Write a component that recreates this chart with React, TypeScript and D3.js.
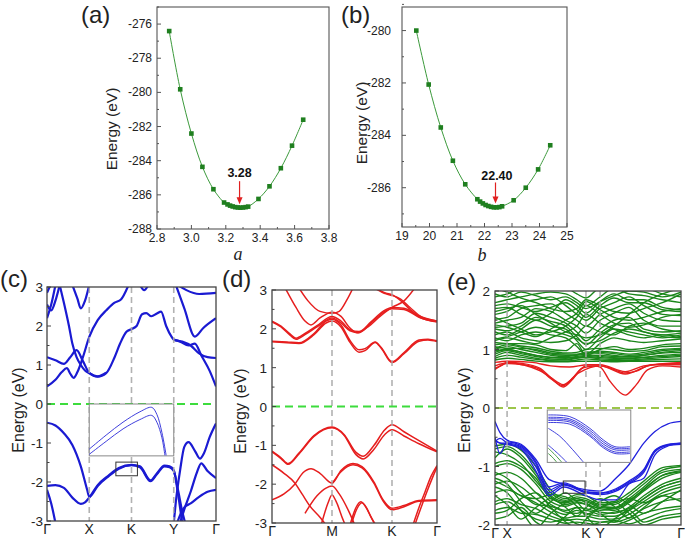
import React from 'react';
import * as d3 from 'd3';

const FONT = '"Liberation Sans", Arial, Helvetica, sans-serif';
type Pt = [number, number];

// ---------- (a) total energy vs lattice a ----------
const aLattice = [2.871, 2.935, 3.0, 3.064, 3.128, 3.19, 3.21, 3.225, 3.24, 3.255, 3.27, 3.285, 3.3, 3.315, 3.33, 3.39, 3.454, 3.52, 3.585, 3.65];
const aEnergy = [-276.41, -279.82, -282.41, -284.36, -285.67, -286.45, -286.56, -286.63, -286.68, -286.72, -286.74, -286.75, -286.74, -286.72, -286.69, -286.24, -285.5, -284.44, -283.12, -281.6];
const aXTicks = [2.8, 3.0, 3.2, 3.4, 3.6, 3.8];
const aXMinor = [2.9, 3.1, 3.3, 3.5, 3.7];
const aYTicks = [-288, -286, -284, -282, -280, -278, -276];
const aYMinor = [-287, -285, -283, -281, -279, -277, -275];

// ---------- (b) total energy vs lattice b ----------
const bLattice = [19.52, 19.97, 20.41, 20.85, 21.3, 21.74, 21.84, 21.94, 22.04, 22.14, 22.24, 22.34, 22.44, 22.54, 22.64, 23.06, 23.5, 23.95, 24.39];
const bEnergy = [-280.0, -282.06, -283.7, -284.97, -285.87, -286.44, -286.53, -286.6, -286.66, -286.7, -286.73, -286.75, -286.75, -286.74, -286.71, -286.48, -286.0, -285.3, -284.38];
const bXTicks = [19, 20, 21, 22, 23, 24, 25];
const bXMinor = [19.5, 20.5, 21.5, 22.5, 23.5, 24.5];
const bYTicks = [-286, -284, -282, -280];
const bYMinor = [-287, -285, -283, -281, -279];

// ---------- (c) band structure ----------
const cKLabels: [number, string][] = [[0, 'Γ'], [1, 'X'], [2, 'K'], [3, 'Y'], [4, 'Γ']];
const cDashed = [1, 2, 3];
const cYTicks = [-3, -2, -1, 0, 1, 2, 3];
const cConduction: Pt[][] = [
  [[0, 0.45], [0.2, 0.62], [0.35, 0.82], [0.47, 0.92], [0.55, 0.78], [0.63, 0.67], [0.72, 0.82], [0.85, 1.2], [1.0, 1.72], [1.2, 2.15], [1.41, 2.41], [1.6, 2.6], [1.75, 2.68], [1.93, 3.05]],
  [[0, 1.2], [0.2, 1.12], [0.4, 1.03], [0.55, 1.2], [0.7, 1.38], [0.85, 1.1], [1.0, 0.8], [1.2, 0.7], [1.4, 0.79], [1.6, 1.2], [1.73, 1.55], [1.88, 1.85], [2.0, 1.92], [2.12, 2.0], [2.25, 2.3], [2.35, 2.33], [2.47, 2.25], [2.6, 2.32], [2.7, 2.37], [2.82, 2.0], [2.95, 1.72], [3.0, 1.65], [3.2, 1.6], [3.4, 1.5], [3.6, 1.3], [3.8, 1.2], [4.0, 1.18]],
  [[0, 2.2], [0.1, 2.55], [0.2, 3.05]],
  [[0, 2.55], [0.1, 2.4], [0.2, 2.65], [0.3, 3.05]],
  [[0, 2.85], [0.08, 3.05]],
  [[0.6, 3.05], [0.72, 2.7], [0.8, 2.45], [0.9, 2.65], [1.0, 3.05]],
  [[0.3, 3.05], [0.42, 2.5], [0.52, 2.0], [0.6, 1.55], [0.7, 1.2], [0.8, 1.0], [0.9, 0.86], [1.0, 0.79], [1.2, 0.71], [1.4, 0.8]],
  [[2.2, 3.05], [2.3, 2.92], [2.4, 3.05]],
  [[3.05, 3.05], [3.25, 2.45], [3.5, 1.73], [3.7, 1.95], [4.0, 2.2]],
  [[3.1, 3.05], [3.3, 2.92], [3.6, 2.82], [4.0, 2.85]],
  [[3.0, 1.65], [3.15, 1.6], [3.35, 1.5], [3.5, 1.55], [3.65, 1.25], [3.85, 0.85], [4.0, 0.45]],
];
const cValence: Pt[][] = [
  [[0, -0.48], [0.2, -0.55], [0.4, -0.75], [0.6, -1.05], [0.8, -1.6], [0.95, -2.2], [1.0, -2.38], [1.2, -2.1], [1.45, -1.86], [1.7, -1.66], [2.0, -1.57], [2.2, -1.62], [2.45, -1.98], [2.6, -1.8], [2.78, -1.6], [2.9, -1.62], [3.0, -1.72], [3.1, -2.2], [3.2, -2.75], [3.27, -3.05]],
  [[0, -2.1], [0.2, -2.08], [0.4, -2.15], [0.6, -2.4], [0.8, -2.56], [0.9, -2.52], [1.0, -2.4], [1.2, -2.08], [1.45, -1.84], [1.7, -1.64], [2.0, -1.56], [2.2, -1.6], [2.45, -1.96], [2.6, -1.78], [2.78, -1.58], [2.9, -1.6], [3.0, -1.7], [3.1, -2.3], [3.2, -3.05]],
  [[0, -2.2], [0.1, -2.55], [0.2, -3.05]],
  [[3.0, -3.05], [3.05, -2.5], [3.15, -1.7], [3.25, -1.1], [3.35, -0.98], [3.5, -1.2], [3.62, -1.4], [3.72, -1.25], [3.85, -0.85], [4.0, -0.5]],
  [[3.15, -3.05], [3.25, -2.7], [3.4, -2.25], [3.55, -1.75], [3.65, -1.52], [3.8, -1.72], [4.0, -1.9]],
  [[3.08, -3.05], [3.15, -2.85], [3.25, -2.65], [3.4, -2.55], [3.6, -2.38], [3.8, -2.25], [4.0, -2.2]],
];
const cInsetU1 = [0, 0.2, 0.4, 0.6, 0.74, 0.8, 0.86, 0.91];
const cInsetW1 = [0.87, 0.6, 0.35, 0.15, 0.065, 0.2, 0.55, 0.99];
const cInsetU2 = [0, 0.2, 0.4, 0.6, 0.74, 0.8, 0.86, 0.895];
const cInsetW2 = [0.97, 0.72, 0.48, 0.3, 0.22, 0.35, 0.65, 0.99];
const cInsetBox = { k0: 1, k1: 3, e0: 0, e1: -1.33 };
const cSmallBox = { k0: 1.63, k1: 2.14, e0: -1.49, e1: -1.84 };

// ---------- (d) band structure ----------
const dKLabels: [number, string][] = [[0, 'Γ'], [1, 'M'], [2, 'K'], [2.75, 'Γ']];
const dDashed = [1, 2];
const dBands: Pt[][] = [
  [[0, 1.67], [0.25, 1.64], [0.45, 1.62], [0.7, 1.85], [0.9, 2.15], [1.0, 2.2], [1.15, 2.05], [1.3, 1.65], [1.45, 1.4], [1.55, 1.44], [1.72, 1.65], [1.82, 1.5], [2.0, 1.13], [2.2, 1.36], [2.45, 1.68], [2.6, 1.71], [2.75, 1.67]],
  [[0, 1.68], [0.25, 1.66], [0.45, 1.64], [0.7, 1.88], [0.9, 2.2], [1.0, 2.25], [1.15, 2.1], [1.3, 1.7], [1.45, 1.46], [1.55, 1.49], [1.72, 1.66], [1.82, 1.52], [2.0, 1.15], [2.2, 1.39], [2.45, 1.71], [2.6, 1.73], [2.75, 1.69]],
  [[0, 2.18], [0.15, 2.05], [0.3, 1.84], [0.4, 1.73], [0.55, 1.85], [0.75, 2.05], [1.0, 2.28], [1.15, 2.15], [1.3, 1.95], [1.45, 1.9], [1.65, 2.15], [1.85, 2.42], [2.0, 2.52], [2.2, 2.5], [2.45, 2.3], [2.75, 2.18]],
  [[0, 2.2], [0.15, 2.07], [0.3, 1.87], [0.4, 1.76], [0.55, 1.88], [0.75, 2.08], [1.0, 2.32], [1.15, 2.2], [1.3, 1.98], [1.45, 1.93], [1.65, 2.18], [1.85, 2.45], [2.0, 2.55], [2.2, 2.53], [2.45, 2.33], [2.75, 2.2]],
  [[0.22, 3.05], [0.4, 2.55], [0.55, 2.2], [0.65, 2.1], [0.8, 2.28], [1.0, 2.43], [1.15, 2.32], [1.3, 2.02], [1.42, 1.9], [1.6, 2.05], [1.8, 2.32], [2.0, 2.55], [2.2, 2.72], [2.38, 3.05]],
  [[0.45, 3.05], [0.6, 2.72], [0.8, 2.45], [1.0, 2.4], [1.12, 2.45], [1.25, 2.75], [1.35, 3.05]],
  [[1.72, 3.05], [1.9, 2.92], [2.0, 2.88], [2.15, 2.72], [2.3, 2.5], [2.5, 2.27], [2.75, 2.18]],
  [[1.74, 3.02], [1.9, 2.9], [2.0, 2.86], [2.15, 2.76], [2.3, 2.55], [2.5, 2.3], [2.75, 2.2]],
  [[0, -1.15], [0.15, -1.32], [0.27, -1.47], [0.45, -1.2], [0.7, -0.75], [1.0, -0.53], [1.2, -0.72], [1.4, -1.18], [1.52, -1.28], [1.7, -1.0], [1.88, -0.6], [2.0, -0.47], [2.2, -0.65], [2.45, -0.88], [2.75, -1.15]],
  [[0, -1.17], [0.15, -1.34], [0.27, -1.49], [0.45, -1.22], [0.7, -0.77], [1.0, -0.55], [1.2, -0.74], [1.4, -1.24], [1.52, -1.35], [1.7, -1.1], [1.88, -0.72], [2.0, -0.6], [2.2, -0.76], [2.45, -0.96], [2.75, -1.17]],
  [[0, -1.5], [0.2, -1.72], [0.38, -1.97], [0.5, -2.25], [0.63, -2.56], [0.81, -2.87], [0.9, -3.05]],
  [[0, -2.4], [0.2, -2.25], [0.38, -2.0], [0.52, -1.7], [0.65, -1.6], [0.8, -1.72], [1.0, -1.97], [1.15, -1.65], [1.35, -1.47], [1.5, -1.55], [1.7, -1.95], [1.85, -2.4], [2.0, -2.62], [2.2, -2.55], [2.45, -2.42], [2.75, -2.4]],
  [[1.0, -1.99], [1.15, -1.68], [1.35, -1.5], [1.5, -1.58], [1.7, -1.98], [1.85, -2.43], [2.0, -2.66], [2.2, -2.58], [2.45, -2.44], [2.75, -2.42]],
  [[0.55, -2.75], [0.75, -2.3], [0.9, -2.1], [1.0, -2.05], [1.12, -2.25], [1.28, -2.7], [1.38, -3.05]],
  [[0.82, -3.05], [0.93, -2.5], [1.0, -2.28], [1.07, -2.45], [1.18, -2.9], [1.22, -3.05]],
  [[1.3, -3.05], [1.4, -2.6], [1.48, -2.45], [1.55, -2.55], [1.65, -2.85], [1.72, -3.05]],
  [[1.32, -3.05], [1.42, -2.62], [1.5, -2.48], [1.57, -2.6], [1.67, -2.9], [1.73, -3.05]],
  [[2.35, -3.05], [2.45, -2.6], [2.55, -2.2], [2.65, -1.8], [2.75, -1.52]],
  [[2.38, -3.05], [2.48, -2.62], [2.58, -2.2], [2.67, -1.85], [2.75, -1.56]],
];

// ---------- (e) band structure ----------
const eKLabels: [number, string][] = [[0, 'Γ'], [0.065, 'X'], [0.489, 'K'], [0.565, 'Y'], [1, 'Γ']];
const eDashed = [0.065, 0.489, 0.565];
const eYTicks = [-2, -1, 0, 1, 2];
const eGridK = [0, 0.065, 0.14, 0.22, 0.3, 0.38, 0.44, 0.489, 0.565, 0.64, 0.72, 0.8, 0.9, 1.0];
const eGreenCond: number[][] = [
  [0.82, 0.85, 0.83, 0.8, 0.79, 0.79, 0.8, 0.8, 0.8, 0.79, 0.8, 0.8, 0.8, 0.8],
  [0.85, 0.9, 0.87, 0.83, 0.81, 0.8, 0.82, 0.84, 0.82, 0.81, 0.81, 0.82, 0.83, 0.84],
  [0.88, 0.95, 0.9, 0.85, 0.82, 0.82, 0.85, 0.87, 0.84, 0.83, 0.82, 0.84, 0.86, 0.88],
  [0.92, 0.98, 0.93, 0.88, 0.84, 0.83, 0.86, 0.88, 0.86, 0.85, 0.84, 0.86, 0.88, 0.9],
  [0.95, 1.0, 0.96, 0.9, 0.86, 0.85, 0.88, 0.9, 0.88, 0.86, 0.85, 0.87, 0.9, 0.92],
  [1.0, 1.05, 1.0, 0.95, 0.9, 0.88, 0.9, 0.92, 0.93, 0.9, 0.88, 0.9, 0.95, 0.98],
  [1.02, 1.08, 1.04, 0.98, 0.92, 0.9, 0.91, 0.96, 0.95, 0.93, 0.9, 0.92, 0.98, 1.0],
  [1.05, 1.02, 1.02, 1.0, 0.94, 0.92, 0.92, 0.94, 0.97, 0.95, 0.92, 0.95, 1.0, 1.02],
  [0.98, 1.0, 0.95, 0.9, 0.87, 0.86, 0.86, 0.88, 0.9, 0.88, 0.87, 0.9, 0.94, 0.95],
  [1.08, 1.1, 1.06, 1.03, 0.97, 0.94, 0.95, 1.0, 1.02, 1.0, 0.97, 0.98, 1.05, 1.06],
  [1.12, 1.1, 1.1, 1.08, 1.0, 0.98, 1.1, 0.9, 1.0, 1.05, 1.0, 1.02, 1.08, 1.1],
  [1.2, 1.15, 1.25, 1.3, 1.25, 1.2, 1.05, 0.92, 1.1, 1.2, 1.15, 1.12, 1.15, 1.18],
  [1.18, 1.22, 1.3, 1.38, 1.32, 1.25, 1.18, 1.1, 1.15, 1.28, 1.35, 1.3, 1.22, 1.2],
  [1.3, 1.25, 1.35, 1.5, 1.4, 1.35, 1.15, 1.0, 1.2, 1.35, 1.3, 1.25, 1.2, 1.25],
  [1.35, 1.32, 1.4, 1.55, 1.48, 1.4, 1.22, 1.08, 1.28, 1.42, 1.45, 1.3, 1.25, 1.28],
  [1.38, 1.4, 1.45, 1.62, 1.55, 1.45, 1.3, 1.15, 1.35, 1.5, 1.55, 1.35, 1.3, 1.32],
  [1.45, 1.5, 1.55, 1.7, 1.65, 1.5, 1.4, 1.28, 1.5, 1.62, 1.72, 1.5, 1.4, 1.4],
  [1.52, 1.55, 1.7, 1.75, 1.78, 1.62, 1.5, 1.4, 1.6, 1.7, 1.78, 1.62, 1.5, 1.48],
  [1.6, 1.65, 1.8, 1.85, 1.9, 1.75, 1.6, 1.5, 1.7, 1.8, 1.9, 1.75, 1.6, 1.58],
  [1.7, 1.72, 1.6, 1.5, 1.62, 1.85, 1.75, 1.62, 1.82, 1.95, 1.85, 1.85, 1.72, 1.68],
  [1.75, 1.78, 1.72, 1.65, 1.72, 1.8, 1.68, 1.55, 1.75, 1.88, 1.8, 1.8, 1.68, 1.65],
  [1.8, 1.85, 1.9, 1.95, 1.98, 1.95, 1.85, 1.75, 1.9, 2.05, 1.95, 1.92, 1.85, 1.8],
  [1.9, 1.95, 2.05, 2.05, 2.05, 2.05, 1.95, 1.88, 2.05, 2.05, 2.05, 2.05, 1.95, 1.9],
  [1.95, 1.9, 1.98, 1.92, 1.85, 1.9, 1.8, 1.7, 1.82, 1.92, 2.0, 1.98, 1.9, 1.98],
  [1.25, 1.3, 1.2, 1.15, 1.12, 1.15, 1.25, 1.4, 1.3, 1.25, 1.4, 1.45, 1.35, 1.3],
  [1.15, 1.2, 1.15, 1.1, 1.2, 1.3, 1.4, 1.6, 1.45, 1.35, 1.25, 1.2, 1.25, 1.22],
  [1.42, 1.38, 1.3, 1.22, 1.35, 1.5, 1.62, 1.82, 1.68, 1.55, 1.5, 1.55, 1.65, 1.7],
  [1.55, 1.45, 1.35, 1.25, 1.3, 1.4, 1.55, 1.75, 1.6, 1.45, 1.38, 1.42, 1.55, 1.6],
  [2.05, 1.98, 1.88, 1.8, 1.7, 1.65, 1.7, 1.85, 1.75, 1.65, 1.62, 1.7, 1.8, 1.95],
  [1.65, 1.7, 1.75, 1.6, 1.45, 1.3, 1.25, 1.2, 1.25, 1.4, 1.6, 1.8, 1.95, 2.05],
];
const eGreenVal: number[][] = [
  [-0.65, -0.62, -0.72, -1.0, -1.4, -1.55, -1.48, -1.5, -1.62, -1.6, -1.45, -1.25, -1.02, -0.98],
  [-0.7, -0.66, -0.8, -1.1, -1.45, -1.58, -1.52, -1.55, -1.65, -1.65, -1.5, -1.3, -1.06, -1.0],
  [-0.75, -0.8, -0.95, -1.25, -1.52, -1.65, -1.6, -1.65, -1.75, -1.72, -1.58, -1.4, -1.15, -1.09],
  [-0.85, -0.7, -0.85, -1.15, -1.5, -1.6, -1.55, -1.58, -1.68, -1.7, -1.55, -1.35, -1.1, -1.05],
  [-0.95, -0.9, -1.0, -1.2, -1.55, -1.62, -1.58, -1.6, -1.7, -1.72, -1.6, -1.38, -1.15, -1.07],
  [-1.0, -0.95, -1.05, -1.3, -1.6, -1.68, -1.62, -1.65, -1.72, -1.75, -1.62, -1.42, -1.2, -1.1],
  [-1.1, -1.2, -1.45, -1.65, -1.68, -1.78, -1.8, -1.75, -1.82, -1.78, -1.72, -1.55, -1.35, -1.25],
  [-1.15, -1.1, -1.2, -1.45, -1.65, -1.75, -1.7, -1.72, -1.78, -1.8, -1.7, -1.5, -1.3, -1.2],
  [-1.25, -1.35, -1.5, -1.55, -1.48, -1.52, -1.68, -1.82, -1.7, -1.62, -1.55, -1.62, -1.45, -1.35],
  [-1.3, -1.25, -1.35, -1.55, -1.72, -1.82, -1.75, -1.8, -1.85, -1.85, -1.75, -1.6, -1.4, -1.3],
  [-1.45, -1.4, -1.5, -1.62, -1.78, -1.88, -1.85, -1.85, -1.9, -1.9, -1.82, -1.65, -1.5, -1.42],
  [-1.6, -1.55, -1.65, -1.72, -1.85, -1.92, -1.9, -1.92, -1.95, -1.95, -1.88, -1.72, -1.6, -1.55],
  [-1.65, -1.6, -1.75, -1.9, -1.95, -1.9, -1.98, -2.02, -1.96, -1.92, -1.98, -1.9, -1.78, -1.72],
  [-1.75, -1.7, -1.8, -1.82, -1.9, -1.97, -1.95, -1.97, -2.0, -2.0, -1.92, -1.8, -1.72, -1.68],
  [-1.2, -1.3, -1.6, -1.8, -1.6, -1.45, -1.6, -1.75, -1.6, -1.5, -1.65, -1.8, -1.6, -1.4],
  [-1.5, -1.65, -1.9, -1.7, -1.55, -1.7, -1.85, -1.7, -1.55, -1.68, -1.88, -1.7, -1.5, -1.6],
  [-1.9, -1.85, -1.7, -1.95, -2.05, -1.85, -1.7, -1.85, -2.05, -1.9, -1.75, -1.95, -1.85, -1.8],
  [-1.35, -1.45, -1.75, -2.05, -1.8, -1.62, -1.55, -1.62, -1.8, -1.95, -1.75, -1.55, -1.35, -1.25],
  [-1.8, -1.75, -1.55, -1.45, -1.7, -1.95, -2.05, -1.9, -1.7, -1.6, -1.8, -2.0, -1.9, -1.85],
];
const eRed: Pt[][] = [
  [[0, 0.68], [0.03, 0.72], [0.065, 0.78], [0.15, 0.76], [0.24, 0.68], [0.3, 0.52], [0.367, 0.36], [0.42, 0.5], [0.46, 0.66], [0.489, 0.72], [0.53, 0.72], [0.565, 0.7], [0.62, 0.45], [0.7, 0.22], [0.76, 0.4], [0.82, 0.65], [0.9, 0.72], [1, 0.7]],
  [[0, 0.66], [0.065, 0.76], [0.15, 0.74], [0.24, 0.66], [0.3, 0.5], [0.367, 0.38], [0.42, 0.52], [0.46, 0.66], [0.489, 0.7], [0.565, 0.72], [0.62, 0.68], [0.7, 0.6], [0.76, 0.63], [0.82, 0.72], [0.9, 0.75], [1, 0.76]],
  [[0, 0.78], [0.065, 0.8], [0.2, 0.78], [0.3, 0.72], [0.4, 0.7], [0.5, 0.74], [0.565, 0.74], [0.7, 0.62], [0.8, 0.72], [1, 0.78]],
  [[0, 0.72], [0.065, 0.77], [0.24, 0.64], [0.3, 0.52], [0.367, 0.4], [0.45, 0.6], [0.565, 0.72], [0.7, 0.58], [0.85, 0.74], [1, 0.74]],
];
const eBlueK = [0, 0.027, 0.065, 0.14, 0.22, 0.29, 0.37, 0.489, 0.565, 0.65, 0.72, 0.8, 0.86, 0.93, 1.0];
const eBlue: number[][] = [
  [-0.23, -0.42, -0.55, -0.62, -0.88, -1.22, -1.3, -1.4, -1.42, -1.2, -0.97, -0.6, -0.4, -0.27, -0.23],
  [-0.5, -0.78, -0.58, -0.64, -0.92, -1.35, -1.28, -1.43, -1.45, -1.38, -1.25, -1.05, -0.72, -0.62, -0.6],
  [-0.55, -0.6, -0.6, -0.66, -0.95, -1.4, -1.3, -1.44, -1.46, -1.4, -1.27, -1.07, -0.73, -0.63, -0.61],
  [-0.58, -0.52, -0.6, -0.68, -1.0, -1.45, -1.32, -1.45, -1.48, -1.42, -1.29, -1.1, -0.75, -0.64, -0.62],
  [-0.55, -0.6, -0.62, -0.7, -1.08, -1.5, -1.35, -1.5, -1.57, -1.57, -1.3, -1.2, -0.8, -0.65, -0.6],
];
const eInsetBlue: Pt[][] = [
  [[0.012, 0.095], [0.27, 0.127], [0.51, 0.35], [0.67, 0.57], [0.81, 0.7], [0.99, 0.7]],
  [[0.012, 0.14], [0.27, 0.17], [0.51, 0.39], [0.67, 0.61], [0.81, 0.73], [0.99, 0.73]],
  [[0.012, 0.17], [0.27, 0.2], [0.51, 0.43], [0.67, 0.65], [0.81, 0.76], [0.99, 0.76]],
  [[0.012, 0.2], [0.27, 0.23], [0.51, 0.47], [0.67, 0.69], [0.81, 0.8], [0.99, 0.8]],
  [[0.012, 0.24], [0.27, 0.27], [0.51, 0.5], [0.67, 0.72], [0.81, 0.83], [0.99, 0.83]],
  [[0.012, 0.35], [0.15, 0.5], [0.3, 0.75], [0.43, 0.99]],
  [[0.012, 0.67], [0.12, 0.82], [0.23, 0.99]],
];
const eInsetGreen: Pt[][] = [
  [[0.012, 0.73], [0.09, 0.85], [0.17, 0.99]],
  [[0.012, 0.83], [0.06, 0.9], [0.11, 0.99]],
];
const eInsetBox = { k0: 0.281, k1: 0.73, e0: -0.034, e1: -0.93 };
const eSmallBox = { k0: 0.367, k1: 0.484, e0: -1.248, e1: -1.458 };

// ---------- helpers ----------
const sortPts = (p: Pt[]) => [...p].sort((a, b) => a[0] - b[0]);
const zip = (k: number[], e: number[]): Pt[] => k.map((v, i) => [v, e[i]] as Pt);

function mkLine(xs: any, ys: any, curve: any = d3.curveMonotoneX) {
  return d3.line<Pt>().x(d => xs(d[0])).y(d => ys(d[1])).curve(curve);
}

function FitPanel(p: any) {
  const { xs, ys, xv, ev, xTicks, xMinor, yTicks, yMinor, xFmt, yLabelRight, xLabelBase, arrowX, arrowE0, arrowE1, note, noteX, noteE, energyCx, energyCy, varName, varX, varY } = p;
  const [x0, x1] = xs.range();
  const [y0, y1] = ys.range();
  const pts = zip(xv, ev);
  const path = mkLine(xs, ys, d3.curveCatmullRom)(pts) || '';
  const ax = xs(arrowX), ay0 = ys(arrowE0), ay1 = ys(arrowE1);
  return (
    <g>
      <rect x={x0} y={y1} width={x1 - x0} height={y0 - y1} fill="none" stroke="#555" strokeWidth={1.1} />
      {yTicks.map((t: number) => (
        <g key={'y' + t}>
          <line x1={x0} x2={x0 + 4} y1={ys(t)} y2={ys(t)} stroke="#555" />
          <text x={yLabelRight} y={ys(t) + 4} textAnchor="end" fontSize={12} fontFamily={FONT} fill="#222">{t}</text>
        </g>
      ))}
      {yMinor.map((t: number) => <line key={'ym' + t} x1={x0} x2={x0 + 2} y1={ys(t)} y2={ys(t)} stroke="#555" />)}
      {xTicks.map((t: number) => (
        <g key={'x' + t}>
          <line x1={xs(t)} x2={xs(t)} y1={y0} y2={y0 - 4} stroke="#555" />
          <text x={xs(t)} y={xLabelBase} textAnchor="middle" fontSize={12} fontFamily={FONT} fill="#222">{xFmt(t)}</text>
        </g>
      ))}
      {xMinor.map((t: number) => <line key={'xm' + t} x1={xs(t)} x2={xs(t)} y1={y0} y2={y0 - 2} stroke="#555" />)}
      <path d={path} fill="none" stroke="#3c9a3c" strokeWidth={1} />
      {pts.map((d, i) => <rect key={i} x={xs(d[0]) - 2.3} y={ys(d[1]) - 2.3} width={4.6} height={4.6} fill="#1f7f1f" />)}
      <line x1={ax} x2={ax} y1={ay0} y2={ay1 - 6} stroke="#e02020" strokeWidth={1.2} />
      <polygon points={`${ax - 3},${ay1 - 7} ${ax + 3},${ay1 - 7} ${ax},${ay1}`} fill="#e02020" />
      <text x={xs(noteX)} y={ys(noteE)} textAnchor="middle" fontSize={12.5} fontWeight="bold" fontFamily={FONT} fill="#111">{note}</text>
      <text transform={`translate(${energyCx},${energyCy}) rotate(-90)`} textAnchor="middle" dominantBaseline="central" fontSize={15.5} fontFamily={FONT} fill="#222">Energy (eV)</text>
      <text x={varX} y={varY} textAnchor="middle" fontSize={18} fontStyle="italic" fontFamily='"Liberation Serif", "Times New Roman", serif' fill="#222">{varName}</text>
    </g>
  );
}

function BandPanel(p: any) {
  const { id, xs, ys, yTicks, yMinor, yLabelRight, kLabels, dashed, zeroColor, groups, energyCx, energyCy, children } = p;
  const [x0, x1] = xs.range();
  const [y0, y1] = ys.range();
  return (
    <g>
      <defs>
        <clipPath id={id}>
          <rect x={x0} y={y1} width={x1 - x0} height={y0 - y1} />
        </clipPath>
      </defs>
      <g clipPath={`url(#${id})`}>
        {groups.map((g: any, gi: number) => (
          <g key={gi}>
            {g.bands.map((b: Pt[], bi: number) => (
              <path key={bi} d={mkLine(xs, ys)(sortPts(b)) || ''} fill="none" stroke={g.color} strokeWidth={g.width} strokeLinejoin="round" />
            ))}
          </g>
        ))}
        {dashed.map((k: number) => (
          <line key={k} x1={xs(k)} x2={xs(k)} y1={y1} y2={y0} stroke="#aaaaaa" strokeWidth={1.6} strokeDasharray="6,4" opacity={0.9} />
        ))}
        <line x1={x0} x2={x1} y1={ys(0)} y2={ys(0)} stroke={zeroColor} strokeWidth={2} strokeDasharray="8,5" />
        {children}
      </g>
      <rect x={x0} y={y1} width={x1 - x0} height={y0 - y1} fill="none" stroke="#444" strokeWidth={1.3} />
      {yTicks.map((t: number) => (
        <g key={'y' + t}>
          <line x1={x0} x2={x0 + 4} y1={ys(t)} y2={ys(t)} stroke="#444" />
          <text x={yLabelRight} y={ys(t) + 5} textAnchor="end" fontSize={13.5} fontFamily={FONT} fill="#222">{t}</text>
        </g>
      ))}
      {yMinor.map((t: number) => <line key={'m' + t} x1={x0} x2={x0 + 2.5} y1={ys(t)} y2={ys(t)} stroke="#444" />)}
      {kLabels.map(([k, l]: [number, string], i: number) => (
        <text key={i} x={xs(k)} y={y0 + 13} textAnchor="middle" fontSize={14} fontFamily={FONT} fill="#222">{l}</text>
      ))}
      <text transform={`translate(${energyCx},${energyCy}) rotate(-90)`} textAnchor="middle" dominantBaseline="central" fontSize={16} fontFamily={FONT} fill="#222">Energy (eV)</text>
    </g>
  );
}

function Inset({ xs, ys, box, curves }: any) {
  const ix0 = xs(box.k0), ix1 = xs(box.k1), iy0 = ys(box.e0), iy1 = ys(box.e1);
  const us = d3.scaleLinear([0, 1], [ix0, ix1]);
  const ws = d3.scaleLinear([0, 1], [iy0, iy1]);
  return (
    <g>
      <rect x={ix0} y={iy0} width={ix1 - ix0} height={iy1 - iy0} fill="white" stroke="#888" strokeWidth={1} />
      {curves.map((c: any, i: number) => (
        <path key={i} d={mkLine(us, ws, d3.curveCatmullRom)(c.pts) || ''} fill="none" stroke={c.color} strokeWidth={0.9} />
      ))}
    </g>
  );
}

function SmallBox({ xs, ys, box }: any) {
  const x0 = xs(box.k0), x1 = xs(box.k1), y0 = ys(box.e0), y1 = ys(box.e1);
  return <rect x={x0} y={y0} width={x1 - x0} height={y1 - y0} fill="none" stroke="#333" strokeWidth={1} />;
}

export default function App() {
  const aXs = d3.scaleLinear([2.8, 3.8], [157, 329]);
  const aYs = d3.scaleLinear([-288, -275], [229, 7]);
  const bXs = d3.scaleLinear([19, 25], [402, 567]);
  const bYs = d3.scaleLinear([-287.5, -279.1], [227, 7]);
  const cXs = d3.scaleLinear([0, 4], [47, 216]);
  const cYs = d3.scaleLinear([-3, 3], [521, 287]);
  const dXs = d3.scaleLinear([0, 2.75], [272, 437]);
  const dYs = d3.scaleLinear([-3, 3], [523, 290]);
  const eXs = d3.scaleLinear([0, 1], [495, 681]);
  const eYs = d3.scaleLinear([-2, 2], [525, 291]);

  const cMinor = d3.range(-2.5, 3, 1);
  const eMinor = d3.range(-1.5, 2, 1);

  const eGreenBands = [...eGreenCond, ...eGreenVal].map(v => zip(eGridK, v));
  const eBlueBands = eBlue.map(v => zip(eBlueK, v));

  const cInsetCurves = [
    { color: '#2a2ad8', pts: zip(cInsetU1, cInsetW1) },
    { color: '#2a2ad8', pts: zip(cInsetU2, cInsetW2) },
  ];
  const eInsetCurves = [
    ...eInsetGreen.map(p => ({ color: '#2a8a2a', pts: p })),
    ...eInsetBlue.map(p => ({ color: '#2a2ad8', pts: p })),
  ];

  return (
    <svg width={685} height={543} viewBox="0 0 685 543" style={{ position: 'absolute', left: 0, top: 0, background: '#fff' }}>
      <rect x={0} y={0} width={685} height={543} fill="#fff" />
      <FitPanel xs={aXs} ys={aYs} xv={aLattice} ev={aEnergy} xTicks={aXTicks} xMinor={aXMinor} yTicks={aYTicks} yMinor={aYMinor}
        xFmt={(t: number) => t.toFixed(1)} yLabelRight={152} xLabelBase={242}
        arrowX={3.28} arrowE0={-285.2} arrowE1={-286.55} note="3.28" noteX={3.28} noteE={-284.95}
        energyCx={111} energyCy={129} varName="a" varX={238} varY={260} />
      <FitPanel xs={bXs} ys={bYs} xv={bLattice} ev={bEnergy} xTicks={bXTicks} xMinor={bXMinor} yTicks={bYTicks} yMinor={bYMinor}
        xFmt={(t: number) => String(t)} yLabelRight={391} xLabelBase={240}
        arrowX={22.4} arrowE0={-285.8} arrowE1={-286.6} note="22.40" noteX={22.45} noteE={-285.7}
        energyCx={361} energyCy={123} varName="b" varX={482} varY={261} />

      <BandPanel id="clipC" xs={cXs} ys={cYs} yTicks={cYTicks} yMinor={cMinor} yLabelRight={43} kLabels={cKLabels} dashed={cDashed}
        zeroColor="#3ddc3d" energyCx={18} energyCy={410}
        groups={[{ color: '#1a1ad2', width: 2.2, bands: [...cConduction, ...cValence] }]}>
        <Inset xs={cXs} ys={cYs} box={cInsetBox} curves={cInsetCurves} />
        <SmallBox xs={cXs} ys={cYs} box={cSmallBox} />
      </BandPanel>

      <BandPanel id="clipD" xs={dXs} ys={dYs} yTicks={cYTicks} yMinor={cMinor} yLabelRight={267} kLabels={dKLabels} dashed={dDashed}
        zeroColor="#3ddc3d" energyCx={240} energyCy={411}
        groups={[{ color: '#e61e1e', width: 1.5, bands: dBands }]} />

      <BandPanel id="clipE" xs={eXs} ys={eYs} yTicks={eYTicks} yMinor={eMinor} yLabelRight={490} kLabels={eKLabels} dashed={eDashed}
        zeroColor="#9cc64a" energyCx={464} energyCy={410}
        groups={[
          { color: '#1a861a', width: 1.35, bands: eGreenBands },
          { color: '#e61e1e', width: 1.4, bands: eRed },
          { color: '#2020dd', width: 1.3, bands: eBlueBands },
        ]}>
        <Inset xs={eXs} ys={eYs} box={eInsetBox} curves={eInsetCurves} />
        <SmallBox xs={eXs} ys={eYs} box={eSmallBox} />
      </BandPanel>

      <text x={81} y={23} fontSize={24} fontFamily={FONT} fill="#222">(a)</text>
      <text x={341} y={23} fontSize={24} fontFamily={FONT} fill="#222">(b)</text>
      <text x={0} y={287} fontSize={24} fontFamily={FONT} fill="#222">(c)</text>
      <text x={222} y={287} fontSize={24} fontFamily={FONT} fill="#222">(d)</text>
      <text x={447} y={290} fontSize={24} fontFamily={FONT} fill="#222">(e)</text>
    </svg>
  );
}
